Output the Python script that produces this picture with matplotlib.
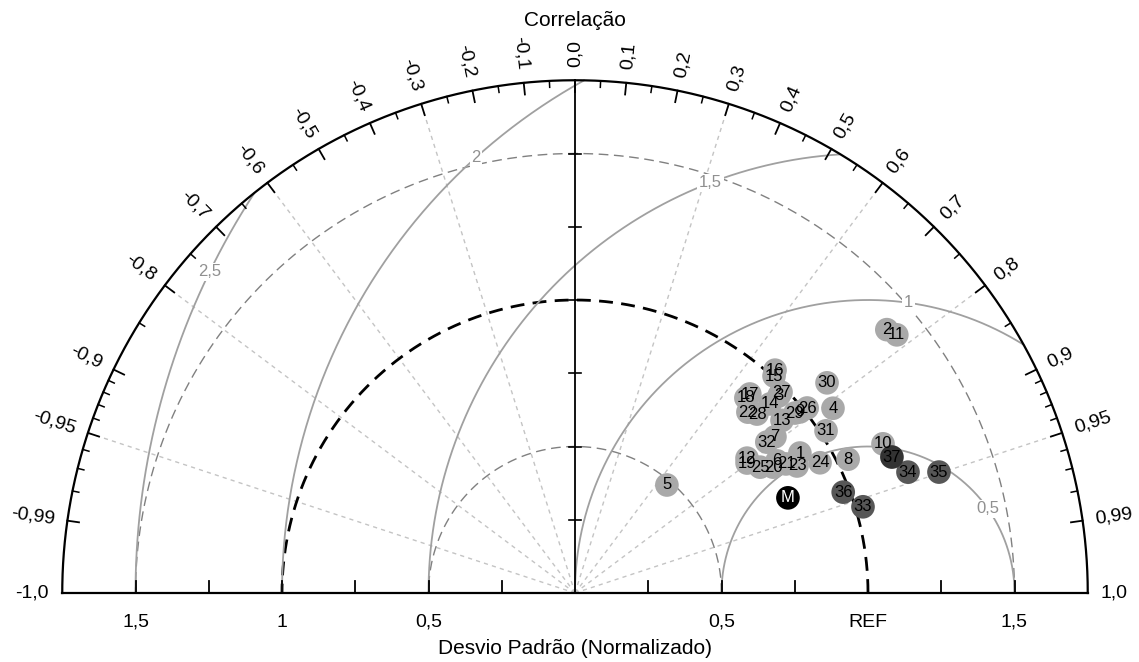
import numpy as np
import matplotlib
matplotlib.use("Agg")
import matplotlib.pyplot as plt

plt.rcParams['font.family'] = ['Liberation Sans', 'DejaVu Sans']

# Dados do diagrama de Taylor (desvio padrão normalizado e correlação)
rotulos = ['1', '2', '3', '4', '5', '6', '7', '8', '9', '10',
           '11', '12', '13', '14', '15', '16', '17', '18', '19', '20',
           '21', '22', '23', '24', '25', '26', '27', '28', '29', '30',
           '31', '32', '33', '34', '35', '36', '37', 'M']
desvio = [0.904, 1.393, 0.968, 1.083, 0.484, 0.824, 0.866, 1.038, 0.986, 1.168,
          1.408, 0.746, 0.920, 0.927, 1.005, 1.022, 0.904, 0.885, 0.736, 0.801,
          0.844, 0.854, 0.873, 0.947, 0.764, 1.013, 0.982, 0.871, 0.970, 1.120,
          1.020, 0.833, 1.026, 1.209, 1.309, 0.978, 1.177, 0.796]
correlacao = [0.849, 0.764, 0.719, 0.813, 0.648, 0.837, 0.788, 0.898, 0.779, 0.900,
              0.780, 0.787, 0.768, 0.718, 0.676, 0.668, 0.660, 0.659, 0.798, 0.844,
              0.853, 0.691, 0.868, 0.883, 0.827, 0.782, 0.716, 0.713, 0.774, 0.768,
              0.840, 0.786, 0.958, 0.940, 0.949, 0.936, 0.919, 0.913]
grupo = ['a'] * 32 + ['b'] * 4 + ['c', 'm']

# eixos
desvio_max = 1.75
desvio_ticks = [-1.5, -1.0, -0.5, 0.5, 1.0, 1.5]
desvio_rotulos = ['1,5', '1', '0,5', '0,5', 'REF', '1,5']
corr_maiores = [0.0, 0.1, 0.2, 0.3, 0.4, 0.5, 0.6, 0.7, 0.8, 0.9, 0.95, 0.99, 1.0]
corr_menores = [0.05, 0.15, 0.25, 0.35, 0.45, 0.55, 0.65, 0.75, 0.85,
                0.91, 0.92, 0.93, 0.94, 0.96, 0.97, 0.98]
corr_radiais = [0.3, 0.6, 0.8, 0.95]
rms_niveis = [0.5, 1.0, 1.5, 2.0, 2.5]
rms_rotulos = ['0,5', '1', '1,5', '2', '2,5']
rms_angulos = [35, 82, 111, 132, 154]
desvio_arcos = [0.5, 1.5]

cores = {'a': '#a9a9a9', 'b': '#575757', 'c': '#333333', 'm': '#000000'}
cor_texto = {'a': 'black', 'b': 'black', 'c': 'black', 'm': 'white'}

# escala: 293 px por unidade, origem em (575, 593)
fig = plt.figure(figsize=(11.39, 6.62), dpi=100)
ax = fig.add_axes([0, 0, 1, 1])
ax.set_xlim(-575 / 293, (1139 - 575) / 293)
ax.set_ylim(-69 / 293, 593 / 293)
ax.axis('off')

t = np.linspace(0, np.pi, 600)

# linhas radiais de correlação
for c in corr_radiais:
    for s in (1, -1):
        th = np.arccos(s * c)
        ax.plot([0, desvio_max * np.cos(th)], [0, desvio_max * np.sin(th)],
                color='#c4c4c4', lw=1, ls=(0, (3, 3)), zorder=1)

# arcos de desvio padrão
for r in desvio_arcos:
    ax.plot(r * np.cos(t), r * np.sin(t), color='#808080', lw=1, ls=(0, (7, 4)), zorder=2)
ax.plot(np.cos(t), np.sin(t), color='black', lw=2, ls=(0, (5, 3)), zorder=2)

# arcos de RMS centrados no REF
for r, lab, ang in zip(rms_niveis, rms_rotulos, rms_angulos):
    x = 1 + r * np.cos(t)
    y = r * np.sin(t)
    m = x ** 2 + y ** 2 <= desvio_max ** 2
    x = np.where(m, x, np.nan)
    ax.plot(x, y, color='#a0a0a0', lw=1.3, zorder=2)
    a = np.deg2rad(ang)
    ax.text(1 + r * np.cos(a), r * np.sin(a), lab, color='#909090', fontsize=12,
            ha='center', va='center', zorder=3,
            bbox=dict(boxstyle='square,pad=0.1', fc='white', ec='none'))

# contorno
ax.plot(desvio_max * np.cos(t), desvio_max * np.sin(t), color='black', lw=1.6, zorder=3)
ax.plot([-desvio_max, desvio_max], [0, 0], color='black', lw=1.6, zorder=3)
ax.plot([0, 0], [0, desvio_max], color='black', lw=1.3, zorder=3)

# ticks do eixo de desvio
for v in np.arange(0.25, 1.6, 0.25):
    for s in (1, -1):
        ax.plot([s * v, s * v], [0, 0.04], color='black', lw=1.3, zorder=3)
    ax.plot([-0.02, 0.02], [v, v], color='black', lw=1.2, zorder=3)
for v, lab in zip(desvio_ticks, desvio_rotulos):
    ax.text(v, -0.1, lab, fontsize=14, ha='center', va='center')

# ticks e rótulos de correlação
for c in corr_menores:
    for s in (1, -1):
        th = np.arccos(s * c)
        ax.plot([(desvio_max - 0.022) * np.cos(th), desvio_max * np.cos(th)],
                [(desvio_max - 0.022) * np.sin(th), desvio_max * np.sin(th)],
                color='black', lw=1.1, zorder=3)
for c in corr_maiores:
    for s in ((1, -1) if c > 0 else (1,)):
        v = s * c
        th = np.arccos(v)
        ax.plot([(desvio_max - 0.04) * np.cos(th), desvio_max * np.cos(th)],
                [(desvio_max - 0.04) * np.sin(th), desvio_max * np.sin(th)],
                color='black', lw=1.3, zorder=3)
        txt = ('%.2f' % c) if round(c * 100) % 10 else ('%.1f' % c)
        txt = txt.replace('.', ',')
        if v < 0:
            txt = '-' + txt
        rr = desvio_max + 0.045
        if v >= 0:
            ax.text(rr * np.cos(th), rr * np.sin(th), txt, fontsize=14,
                    rotation=np.degrees(th), rotation_mode='anchor',
                    ha='left', va='center')
        else:
            ax.text(rr * np.cos(th), rr * np.sin(th), txt, fontsize=14,
                    rotation=np.degrees(th) - 180, rotation_mode='anchor',
                    ha='right', va='center')

ax.text(0, 1.955, 'Correlação', fontsize=15, ha='center', va='center')
ax.text(0, -0.19, 'Desvio Padrão (Normalizado)', fontsize=15, ha='center', va='center')

# pontos
for lab, sd, cc, g in zip(rotulos, desvio, correlacao, grupo):
    th = np.arccos(cc)
    x, y = sd * np.cos(th), sd * np.sin(th)
    ax.scatter(x, y, s=290, color=cores[g], edgecolors='none', zorder=4)
    ax.text(x, y, lab, fontsize=12, color=cor_texto[g], ha='center', va='center', zorder=5)

fig.savefig('out.png', dpi=100)
